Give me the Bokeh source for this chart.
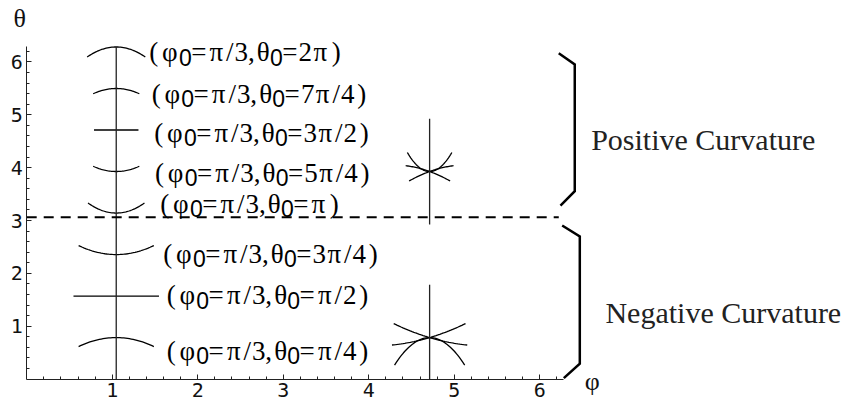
import numpy as np
from bokeh.plotting import figure
from bokeh.models import ColumnDataSource, Range1d, FixedTicker, LinearAxis
from bokeh.core.properties import value
from bokeh.embed import file_html
from bokeh.resources import INLINE

PI = np.pi

# Curves through (phi0, theta0), drawn along phi0 = pi/3
phi0 = PI / 3
theta0_values = [PI / 4, PI / 2, 3 * PI / 4, PI, 5 * PI / 4, 3 * PI / 2, 7 * PI / 4, 2 * PI]
theta0_text = ["π/4", "π/2", "3π/4", "π", "5π/4", "3π/2", "7π/4", "2π"]
arc_half_width = [0.44, 0.50, 0.44, 0.33, 0.27, 0.26, 0.27, 0.34]
arc_end_rise = [-0.17, 0.0, 0.17, 0.19, 0.10, 0.0, -0.10, -0.19]

# Pencils of curves through points on phi = 3pi/2:
# each curve given by its (dphi, dtheta) end points relative to the centre
star_phi = 3 * PI / 2
star_theta = [5 * PI / 4, PI / 4]
star_curve_ends = [
    [[(-0.26, 0.36), (0.26, 0.36)],
     [(-0.28, 0.11), (0.24, -0.18)],
     [(-0.24, -0.18), (0.28, 0.11)]],
    [[(-0.41, -0.52), (0.41, -0.52)],
     [(-0.44, -0.14), (0.42, 0.265)],
     [(-0.42, 0.265), (0.44, -0.14)]],
]
star_stem = 1.0

# Boundary between the two curvature regions and the braces marking them
curvature_boundary = 3.06
brace_pos_x = [6.223, 6.410, 6.410, 6.243]
brace_pos_y = [6.165, 5.952, 3.555, 3.284]
brace_neg_x = [6.263, 6.469, 6.469, 6.282]
brace_neg_y = [2.906, 2.698, 0.293, 0.017]
region_text = ["Positive Curvature", "Negative Curvature"]

x_ticks = [1, 2, 3, 4, 5, 6]
y_ticks = [1, 2, 3, 4, 5, 6]

# ---------------------------------------------------------------- layout
W, H = 845, 406
X_PX0, X_SCALE = 26.2, 85.5      # pixel of phi = 0, pixels per unit
Y_PX0, Y_SCALE = 378.6, 52.86    # pixel of theta = 0, pixels per unit

p = figure(width=W, height=H, output_backend="svg", toolbar_location=None,
           x_range=Range1d(-X_PX0 / X_SCALE, (W - X_PX0) / X_SCALE),
           y_range=Range1d(-(H - Y_PX0) / Y_SCALE, Y_PX0 / Y_SCALE),
           x_axis_location=None, y_axis_location=None,
           min_border=0, min_border_left=0, min_border_right=0,
           min_border_top=0, min_border_bottom=0)
p.outline_line_color = None
p.background_fill_color = "white"
p.border_fill_color = "white"
p.grid.visible = False
p.center = []

minor = [round(i * 0.2, 1) for i in range(1, 32) if i % 5 != 0]


def make_axis(ticks):
    ax = LinearAxis(fixed_location=0, bounds=(0, 2 * PI),
                    ticker=FixedTicker(ticks=ticks, minor_ticks=minor))
    ax.axis_line_color = "#222222"
    ax.axis_line_width = 1
    ax.major_tick_line_color = "#222222"
    ax.minor_tick_line_color = "#222222"
    ax.major_tick_in = 5
    ax.major_tick_out = 0
    ax.minor_tick_in = 3
    ax.minor_tick_out = 0
    ax.major_label_text_font = "DejaVu Sans Mono"
    ax.major_label_text_font_size = "20px"
    ax.major_label_text_color = "#111111"
    ax.major_label_standoff = 4
    return ax


p.add_layout(make_axis(x_ticks), "below")
p.add_layout(make_axis(y_ticks), "left")

# ---------------------------------------------------------------- curves
def curve(x0, y0, left, right, n=41):
    """Parabola through the centre (x0, y0) and the two given end offsets."""
    (xl, yl), (xr, yr) = left, right
    a = np.array([[xl, xl * xl], [xr, xr * xr]])
    s, k = np.linalg.solve(a, np.array([yl, yr]))
    dx = np.linspace(xl, xr, n)
    return list(x0 + dx), list(y0 + s * dx + k * dx * dx)


arc_xs, arc_ys = [], []
for t0, hw, r in zip(theta0_values, arc_half_width, arc_end_rise):
    xs, ys = curve(phi0, t0, (-hw, r), (hw, r))
    arc_xs.append(xs)
    arc_ys.append(ys)
for t0, ends in zip(star_theta, star_curve_ends):
    for left, right in ends:
        xs, ys = curve(star_phi, t0, left, right)
        arc_xs.append(xs)
        arc_ys.append(ys)
p.multi_line(arc_xs, arc_ys, line_color="black", line_width=1.3)

# vertical stems
stem_xs = [[phi0, phi0]] + [[star_phi, star_phi] for _ in star_theta]
stem_ys = [[0, 2 * PI]] + [[max(0, t - star_stem), t + star_stem] for t in star_theta]
p.multi_line(stem_xs, stem_ys, line_color="#222222", line_width=1.3)

# region boundary
p.line([0, brace_pos_x[0]], [curvature_boundary, curvature_boundary],
       line_color="black", line_width=2, line_dash="10 7")

# braces
p.multi_line([brace_pos_x, brace_neg_x], [brace_pos_y, brace_neg_y],
             line_color="black", line_width=2.5, line_join="miter")

# ---------------------------------------------------------------- labels
adv = {"(": 10, "φ": 22, "θ": 17, "=": 18, "π": 17, "/": 10, ",": 7, ")": 15}
label_left_x = [1.632, 1.632, 1.592, 1.557, 1.495, 1.487, 1.456, 1.428]
label_mid_y = [0.541, 1.582, 2.370, 3.320, 3.908, 4.656, 5.397, 6.179]

serif = dict(x=[], y=[], text=[], dx=[])
sub = dict(x=[], y=[], text=[], dx=[])
for lx, ly, tt in zip(label_left_x, label_mid_y, theta0_text):
    pieces = [("(", 0), ("φ", 0), ("0", 1), ("=", 0)] + [(c, 0) for c in "π/3,"] + \
             [("θ", 0), ("0", 1), ("=", 0)] + [(c, 0) for c in tt] + [(")", 0)]
    pos = 0.0
    for ch, is_sub in pieces:
        w = 9 if is_sub else adv.get(ch, 13)
        tgt = sub if is_sub else serif
        tgt["x"].append(lx)
        tgt["y"].append(ly)
        tgt["text"].append(ch)
        tgt["dx"].append(pos + w / 2)
        pos += w

p.text(x="x", y="y", text="text", x_offset="dx", source=ColumnDataSource(serif),
       text_font=value("Liberation Serif"), text_font_size="27px",
       text_align="center", text_baseline="middle", text_color="black")
p.text(x="x", y="y", text="text", x_offset="dx", y_offset=5, source=ColumnDataSource(sub),
       text_font=value("Liberation Sans"), text_font_size="23px",
       text_align="center", text_baseline="middle", text_color="black")

# region names
p.text(x=[6.602, 6.769], y=[4.533, 1.266], text=region_text,
       text_font=value("Liberation Serif"), text_font_size="30px",
       text_align="left", text_baseline="alphabetic", text_color="#222222")

# axis names
p.text(x=[-0.082, 6.614], y=[6.816, -0.051], text=["θ", "φ"],
       text_font=value("Liberation Serif"), text_font_size="26px",
       text_align="center", text_baseline="middle", text_color="#111111")

open("out.html", "w").write(file_html(p, INLINE))
